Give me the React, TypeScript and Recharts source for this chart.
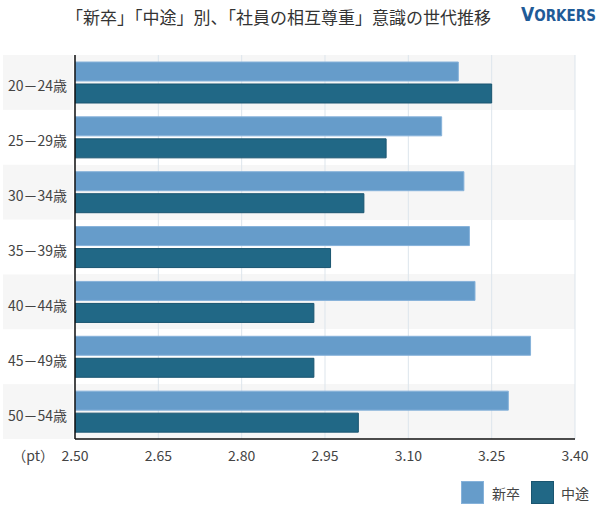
import React from "react"
import { BarChart, Bar, XAxis, YAxis, CartesianGrid, Legend } from "recharts"

// age groups, top to bottom
const AGES = ["20－24歳", "25－29歳", "30－34歳", "35－39歳", "40－44歳", "45－49歳", "50－54歳"]
// 新卒 (new graduate hires)
const SHINSOTSU = [3.19, 3.16, 3.2, 3.21, 3.22, 3.32, 3.28]
// 中途 (mid-career hires)
const CHUTO = [3.25, 3.06, 3.02, 2.96, 2.93, 2.93, 3.01]
const X_TICKS = [2.5, 2.65, 2.8, 2.95, 3.1, 3.25, 3.4]

const SERIES = [
    { key: "shinsotsu", name: "新卒", fill: "#669cca", stroke: "#86b2da" },
    { key: "chuto", name: "中途", fill: "#216886", stroke: "#1a5570" },
]

const data = AGES.map((age, i) => ({ age, shinsotsu: SHINSOTSU[i], chuto: CHUTO[i] }))

const W = 600
const H = 508
const MARGIN = { top: 55, right: 25, left: 0, bottom: 39 }
const XAXIS_H = 30
const YAXIS_W = 75
const ROW_H = (H - MARGIN.top - MARGIN.bottom - XAXIS_H) / AGES.length
const FONT = '"Noto Sans CJK JP", "Noto Sans", sans-serif'

function AgeTick(props: any) {
    const { x, y, payload, index } = props
    return (
        <g>
            {index % 2 === 0 && (
                <rect x={3} y={y - ROW_H / 2} width={70} height={ROW_H} fill="#f6f6f6" />
            )}
            <text x={x} y={y + 4} dy="0.355em" textAnchor="end" fontSize={14} fill="#444" fontFamily={FONT}>
                {payload.value}
            </text>
        </g>
    )
}

function ValueTick(props: any) {
    const { x, y, payload, index } = props
    return (
        <g>
            {index === 0 && (
                <text x={x - 21} y={y + 4} dy="0.71em" textAnchor="end" fontSize={14} fill="#444" fontFamily={FONT}>
                    （pt）
                </text>
            )}
            <text x={x} y={y + 4} dy="0.71em" textAnchor="middle" fontSize={14} fill="#444" fontFamily={FONT}>
                {Number(payload.value).toFixed(2)}
            </text>
        </g>
    )
}

function LegendContent() {
    return (
        <div style={{ display: "flex", alignItems: "center", fontFamily: FONT, fontSize: 14, color: "#444" }}>
            {SERIES.map((s, i) => (
                <div key={s.key} style={{ display: "flex", alignItems: "center", marginLeft: i === 0 ? 0 : 11 }}>
                    <span
                        style={{
                            display: "inline-block",
                            width: 21,
                            height: 21,
                            background: s.fill,
                            border: `1px solid ${s.stroke}`,
                        }}
                    />
                    <span style={{ marginLeft: i === 0 ? 8 : 7 }}>{s.name}</span>
                </div>
            ))}
        </div>
    )
}

export default function App() {
    return (
        <div style={{ position: "relative", width: W, height: H, background: "#fff" }}>
            <style>{"body{margin:0}"}</style>
            <div
                style={{
                    position: "absolute",
                    left: 66,
                    top: 6,
                    fontFamily: FONT,
                    fontSize: 17,
                    lineHeight: "22px",
                    color: "#333",
                    whiteSpace: "nowrap",
                }}
            >
                「新卒」「中途」別、「社員の相互尊重」意識の世代推移
            </div>
            <div
                style={{
                    position: "absolute",
                    left: 521,
                    top: 3,
                    fontFamily: '"DejaVu Sans Condensed", "DejaVu Sans", sans-serif',
                    fontStretch: "condensed",
                    fontWeight: "bold",
                    fontSize: 15,
                    lineHeight: "22px",
                    color: "#1f5b97",
                    whiteSpace: "nowrap",
                }}
            >
                <span style={{ fontSize: 19 }}>V</span>ORKERS
            </div>
            <BarChart
                width={W}
                height={H}
                data={data}
                layout="vertical"
                margin={MARGIN}
                barCategoryGap={7}
                barGap={3}
            >
                <CartesianGrid
                    vertical={false}
                    stroke="none"
                    horizontalFill={["#f6f6f6", "#ffffff"]}
                    horizontalCoordinatesGenerator={({ offset }: any) =>
                        AGES.map((_, i) => offset.top + (i * offset.height) / AGES.length)
                    }
                />
                <CartesianGrid horizontal={false} stroke="#dde5ec" />
                <XAxis
                    type="number"
                    domain={[2.5, 3.4]}
                    ticks={X_TICKS}
                    allowDataOverflow
                    height={XAXIS_H}
                    axisLine={{ stroke: "#111", strokeWidth: 1.5 }}
                    tickLine={false}
                    tick={<ValueTick />}
                    interval={0}
                />
                <YAxis
                    type="category"
                    dataKey="age"
                    width={YAXIS_W}
                    axisLine={{ stroke: "#111", strokeWidth: 1.5 }}
                    tickLine={false}
                    tick={<AgeTick />}
                    interval={0}
                />
                {SERIES.map((s) => (
                    <Bar
                        key={s.key}
                        dataKey={s.key}
                        name={s.name}
                        fill={s.fill}
                        stroke={s.stroke}
                        strokeWidth={1}
                        isAnimationActive={false}
                    />
                ))}
                <Legend
                    layout="horizontal"
                    verticalAlign="middle"
                    align="center"
                    content={<LegendContent />}
                    wrapperStyle={{ position: "absolute", left: 461, top: 481, width: "auto", height: "auto" }}
                />
            </BarChart>
        </div>
    )
}
